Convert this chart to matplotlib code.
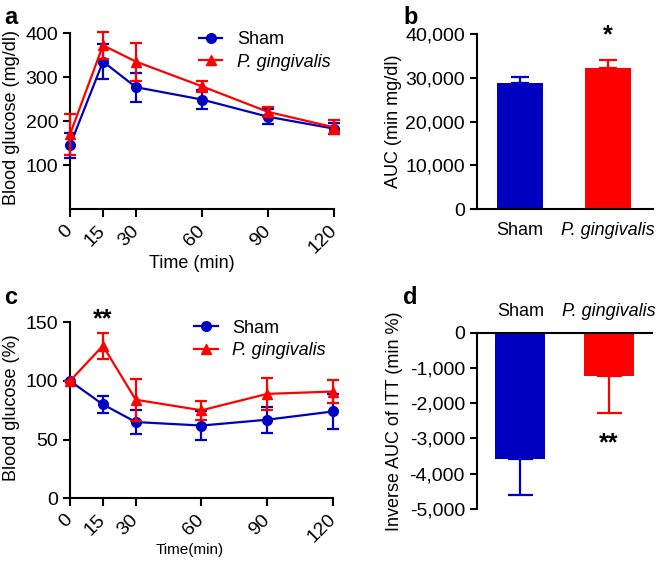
import matplotlib
matplotlib.use('Agg')
import matplotlib.pyplot as plt
import numpy as np
from matplotlib.ticker import FuncFormatter

plt.rcParams['font.family'] = ['Liberation Sans', 'DejaVu Sans']
plt.rcParams['axes.linewidth'] = 1.5
plt.rcParams['xtick.major.width'] = 1.5
plt.rcParams['ytick.major.width'] = 1.5
plt.rcParams['xtick.major.size'] = 5.5
plt.rcParams['ytick.major.size'] = 5

BLUE = '#0000c0'
RED = '#ff0000'

# ---- data ----
time_pts = [0, 15, 30, 60, 90, 120]
time_ticks = ['0', '15', '30', '60', '90', '120']

gtt_sham = [145, 335, 277, 249, 210, 183]
gtt_sham_err = [28, 40, 33, 22, 17, 12]
gtt_pg = [170, 372, 335, 279, 221, 186]
gtt_pg_err = [46, 30, 43, 13, 11, 16]

groups = ['Sham', 'P. gingivalis']
auc_gtt = [28900, 32300]
auc_gtt_err = [1400, 1750]

itt_sham = [100, 80, 65, 62, 67, 74]
itt_sham_err = [0, 7, 10.5, 12.5, 11, 15]
itt_pg = [100, 130, 84, 75, 89, 91]
itt_pg_err = [0, 11, 18, 8, 13.5, 10]

auc_itt = [-3590, -1230]
auc_itt_err = [1000, 1060]

TICK_FS = 14
LAB_FS = 13
LEG_FS = 13
W, H = 665, 563
fig = plt.figure(figsize=(W / 100, H / 100), dpi=100)


def box(l, t, r, b):
    return [l / W, 1 - b / H, (r - l) / W, (b - t) / H]


def style(ax):
    ax.spines['right'].set_visible(False)
    ax.spines['top'].set_visible(False)
    ax.tick_params(labelsize=TICK_FS, direction='out')


def line_panel(ax, s, se, p, pe, anchor):
    e1 = ax.errorbar(time_pts, s, yerr=se, color=BLUE, marker='o', ms=7, lw=1.6,
                     capsize=4.5, capthick=1.6, elinewidth=1.6, clip_on=False, zorder=3)
    e2 = ax.errorbar(time_pts, p, yerr=pe, color=RED, marker='^', ms=7, lw=1.6,
                     capsize=4.5, capthick=1.6, elinewidth=1.6, clip_on=False, zorder=4)
    ax.set_xlim(0, 120)
    ax.set_xticks(time_pts)
    ax.set_xticklabels(time_ticks, rotation=45, ha='right', va='center', rotation_mode='anchor')
    style(ax)
    ax.tick_params(axis='x', pad=8)
    leg = ax.legend([e1.lines[0], e2.lines[0]], groups, loc='upper left', frameon=False,
                    fontsize=LEG_FS, handlelength=1.3, handletextpad=0.8, labelspacing=0.3,
                    borderaxespad=0, borderpad=0, bbox_to_anchor=anchor)
    leg.get_texts()[1].set_style('italic')


thousands = FuncFormatter(lambda v, _: f'{int(v):,}')

# ---- a ----
ax = fig.add_axes(box(70, 33, 334, 209.3))
line_panel(ax, gtt_sham, gtt_sham_err, gtt_pg, gtt_pg_err, (0.488, 1.01))
ax.set_ylim(0, 400)
ax.set_yticks([100, 200, 300, 400])
ax.set_ylabel('Blood glucose (mg/dl)', fontsize=LAB_FS)
ax.yaxis.set_label_coords(-0.19, 0.52)
ax.set_xlabel('Time (min)', fontsize=LAB_FS)
ax.xaxis.set_label_coords(0.461, -0.26)

# ---- b ----
ax = fig.add_axes(box(476.7, 34, 653.3, 209.3))
x = np.arange(len(groups))
ax.bar(x, auc_gtt, width=0.52, color=[BLUE, RED], zorder=2)
for i in range(len(groups)):
    ax.errorbar(x[i], auc_gtt[i], yerr=[[0], [auc_gtt_err[i]]], color=[BLUE, RED][i],
                capsize=6.5, capthick=1.6, elinewidth=1.6, zorder=1)
ax.set_xlim(-0.488, 1.516)
ax.set_ylim(0, 40000)
ax.set_yticks([0, 10000, 20000, 30000, 40000])
ax.yaxis.set_major_formatter(thousands)
ax.set_xticks(x)
ax.set_xticklabels(groups, fontsize=LEG_FS)
ax.get_xticklabels()[1].set_style('italic')
style(ax)
ax.tick_params(axis='x', length=0, pad=9, labelsize=LEG_FS)
ax.set_ylabel('AUC (min mg/dl)', fontsize=LAB_FS)
ax.yaxis.set_label_coords(-0.423, 0.5)
ax.text(1, 39600, '*', ha='center', va='center', fontsize=18, fontweight='bold', clip_on=False)

# ---- c ----
ax = fig.add_axes(box(70, 322.3, 333, 498.3))
line_panel(ax, itt_sham, itt_sham_err, itt_pg, itt_pg_err, (0.473, 1.015))
ax.set_ylim(0, 150)
ax.set_yticks([0, 50, 100, 150])
ax.set_ylabel('Blood glucose (%)', fontsize=LAB_FS)
ax.yaxis.set_label_coords(-0.19, 0.513)
ax.set_xlabel('Time(min)', fontsize=11)
ax.xaxis.set_label_coords(0.456, -0.254)
ax.text(15, 152.8, '**', ha='center', va='center', fontsize=18, fontweight='bold', clip_on=False)

# ---- d ----
ax = fig.add_axes(box(476.7, 332.7, 651.7, 509))
ax.bar(x, auc_itt, width=0.57, color=[BLUE, RED], zorder=2)
for i in range(len(groups)):
    ax.errorbar(x[i], auc_itt[i], yerr=[[auc_itt_err[i]], [0]], color=[BLUE, RED][i],
                capsize=9, capthick=1.6, elinewidth=1.6, zorder=1)
ax.set_xlim(-0.493, 1.486)
ax.set_ylim(-5000, 0)
ax.set_yticks([0, -1000, -2000, -3000, -4000, -5000])
ax.yaxis.set_major_formatter(thousands)
ax.spines['right'].set_visible(False)
ax.spines['bottom'].set_visible(False)
ax.xaxis.tick_top()
ax.set_xticks(x)
ax.set_xticklabels(groups)
ax.get_xticklabels()[1].set_style('italic')
ax.tick_params(labelsize=TICK_FS, direction='out')
ax.tick_params(axis='x', length=0, pad=9, labelsize=LEG_FS)
ax.set_ylabel('Inverse AUC of ITT (min %)', fontsize=LAB_FS)
ax.yaxis.set_label_coords(-0.421, 0.5)
ax.text(1, -3130, '**', ha='center', va='center', fontsize=18, fontweight='bold')

# panel letters
for lbl, px, py in [('a', 4, 6), ('b', 403, 6), ('c', 4, 286), ('d', 403, 286)]:
    fig.text(px / W, 1 - py / H, lbl, ha='left', va='top', fontsize=17, fontweight='bold')

fig.savefig('out.png', dpi=100)
